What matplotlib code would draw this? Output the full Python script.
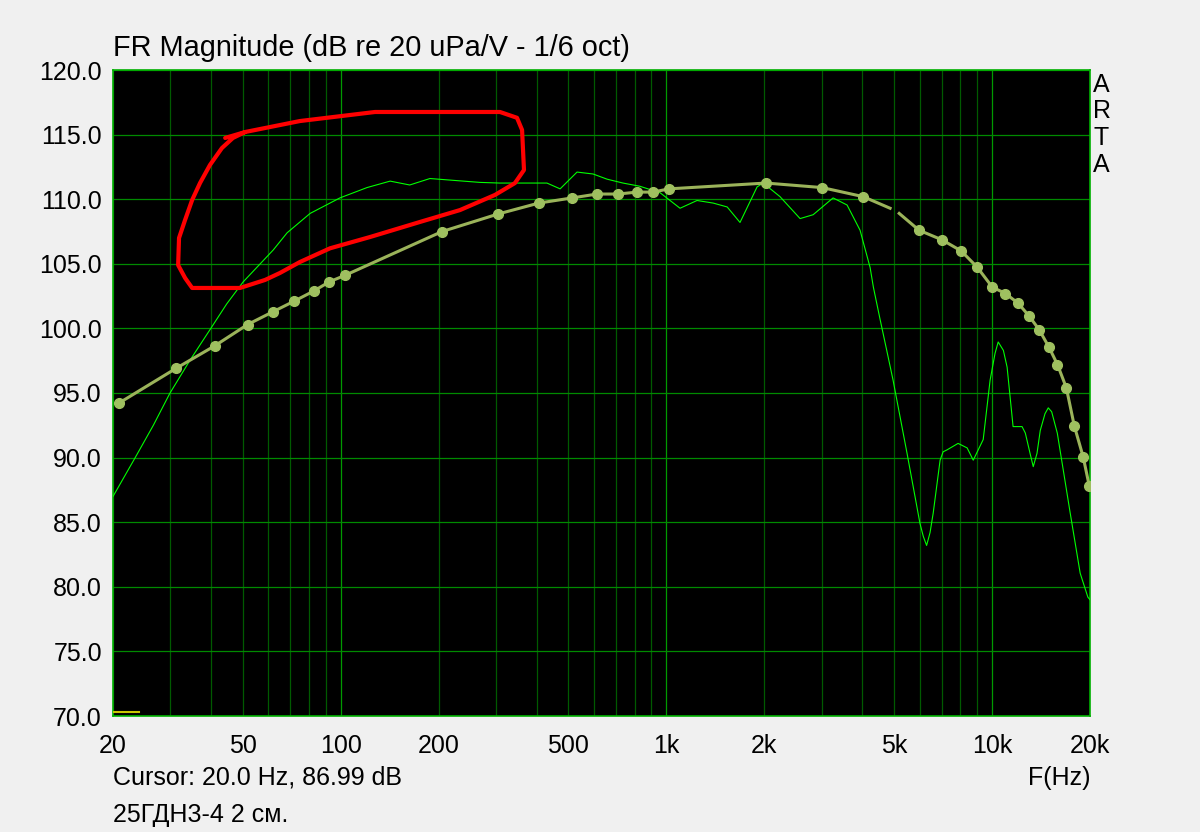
import matplotlib
matplotlib.use('Agg')
import matplotlib.pyplot as plt
from matplotlib.ticker import FixedLocator, NullFormatter

plt.rcParams['font.family'] = ['Liberation Sans', 'DejaVu Sans']

# measured response, 1/6 oct (bright green)
meas_f = [20, 23.4, 26.6, 29.9, 34.5, 39.7, 44.7, 50.2, 62.1, 68.5, 80.6, 99.5, 120.5, 141.9,
          163, 188, 268, 308, 430, 472, 532, 596, 658, 736, 830, 957, 1102, 1243, 1393, 1538,
          1684, 1900, 1984, 2234, 2575, 2825, 3252, 3590, 3935, 4226, 4323, 4538, 4752, 4969,
          5484, 6011, 6154, 6300, 6455, 6600, 6930, 7080, 7280, 7870, 8390, 8760, 9400, 9870,
          10220, 10450, 10840, 11130, 11610, 12370, 12660, 13090, 13390, 13750, 14070, 14550,
          14890, 15250, 15870, 17390, 18660, 19700, 20000]
meas_db = [86.99, 90.0, 92.5, 94.98, 97.55, 99.9, 101.9, 103.6, 106.07, 107.4, 108.9, 110.1,
           110.9, 111.4, 111.1, 111.6, 111.3, 111.25, 111.25, 110.8, 112.1, 111.95, 111.55,
           111.25, 111.0, 110.5, 109.3, 109.9, 109.7, 109.4, 108.2, 110.95, 111.25, 110.2,
           108.5, 108.8, 110.1, 109.55, 107.6, 104.7, 103.2, 100.65, 98.3, 96.0, 90.35, 84.9,
           83.9, 83.2, 84.2, 85.7, 89.8, 90.45, 90.6, 91.1, 90.75, 89.8, 91.4, 96.0, 98.07,
           98.95, 98.3, 97.0, 92.4, 92.4, 91.9, 90.33, 89.3, 90.33, 92.1, 93.4, 93.85, 93.55,
           91.9, 85.7, 81.05, 79.2, 79.0]

# reference curve with markers (olive), two segments
ref1_f = [20.8, 31.2, 41.0, 51.8, 62.1, 71.9, 82.8, 92.2, 103, 205, 304, 406, 514, 613, 711,
          813, 910, 1019, 2024, 3008, 4021, 4866]
ref1_db = [94.2, 96.9, 98.64, 100.3, 101.3, 102.1, 102.9, 103.6, 104.1, 107.5, 108.85, 109.7,
           110.1, 110.4, 110.4, 110.55, 110.55, 110.8, 111.25, 110.9, 110.2, 109.3]
ref2_f = [5190, 5970, 7030, 8040, 9000, 10020, 11000, 12030, 13010, 13960, 14960, 15890,
          16920, 17900, 19060, 19900]
ref2_db = [108.9, 107.6, 106.85, 106.0, 104.75, 103.2, 102.7, 101.95, 100.95, 99.9, 98.55,
           97.2, 95.4, 92.45, 90.05, 87.8]

# hand-drawn red loop
red_f = [44.2, 50.9, 75.0, 127.5, 308.6, 348, 360.7, 365.6, 343, 297.8, 232.6, 175.3, 123,
         92.8, 75.0, 65.1, 58.6, 49.1, 35.0, 33.3, 31.7, 31.9, 33.3, 35.0, 37.0, 39.7, 43.2,
         46.7, 50.9]
red_db = [114.74, 115.2, 116.05, 116.75, 116.75, 116.3, 115.36, 112.26, 111.25, 110.33, 109.16,
          108.24, 107.07, 106.2, 105.14, 104.29, 103.75, 103.13, 103.13, 103.9, 104.9, 107.0,
          108.4, 109.94, 111.25, 112.65, 113.96, 114.74, 115.2]

x_ticks = [20, 50, 100, 200, 500, 1000, 2000, 5000, 10000, 20000]
x_labels = ['20', '50', '100', '200', '500', '1k', '2k', '5k', '10k', '20k']
y_ticks = [70, 75, 80, 85, 90, 95, 100, 105, 110, 115, 120]

fig = plt.figure(figsize=(12, 8.32), dpi=100, facecolor='#f0f0f0')
ax = fig.add_axes([113 / 1200, 116 / 832, 977 / 1200, 646 / 832])
ax.set_facecolor('black')
ax.set_xscale('log')
ax.set_xlim(20, 20000)
ax.set_ylim(70, 120)

# grid
minor = [f * d for d in (10, 100, 1000) for f in range(2, 10)]
for f in minor:
    ax.axvline(f, color='#005a00', lw=0.9, zorder=1)
for f in (100, 1000, 10000):
    ax.axvline(f, color='#009a00', lw=0.9, zorder=1)
for y in y_ticks:
    ax.axhline(y, color='#008a00', lw=0.9, zorder=1)

ax.plot(meas_f, meas_db, color='#00ff00', lw=0.8, zorder=3)
ax.plot(ref1_f, ref1_db, color='#9bb35a', lw=2.2, marker='o', ms=7, mfc='#9fc060',
        mec='#9fc060', markevery=list(range(len(ref1_f) - 1)), zorder=4)
ax.plot(ref2_f, ref2_db, color='#9bb35a', lw=2.2, marker='o', ms=7, mfc='#9fc060',
        mec='#9fc060', markevery=list(range(1, len(ref2_f))), zorder=4)
ax.plot(red_f, red_db, color='#ff0000', lw=3, solid_capstyle='round',
        solid_joinstyle='round', zorder=5)
ax.plot([20, 24], [70.3, 70.3], color='#c8c800', lw=1.5, zorder=5)

for s in ax.spines.values():
    s.set_color('#00b000')
    s.set_linewidth(1.2)

ax.xaxis.set_major_locator(FixedLocator(x_ticks))
ax.set_xticklabels(x_labels)
ax.xaxis.set_minor_locator(FixedLocator([]))
ax.xaxis.set_minor_formatter(NullFormatter())
ax.set_yticks(y_ticks)
ax.set_yticklabels(['%.1f' % y for y in y_ticks])
ax.tick_params(axis='both', which='both', length=0, labelsize=18, colors='black')
ax.tick_params(axis='x', pad=13)
ax.tick_params(axis='y', pad=8)

fig.text(113 / 1200, 1 - 48 / 832, 'FR Magnitude (dB re 20 uPa/V - 1/6 oct)', fontsize=20.8,
         va='center', ha='left')
for i, ch in enumerate('ARTA'):
    fig.text(1093 / 1200, 1 - (85 + i * 26.5) / 832, ch, fontsize=18, va='center', ha='left')
fig.text(113 / 1200, 1 - 778 / 832, 'Cursor: 20.0 Hz, 86.99 dB', fontsize=18, va='center')
fig.text(1090 / 1200, 1 - 778 / 832, 'F(Hz)', fontsize=18, va='center', ha='right')
fig.text(113 / 1200, 1 - 815 / 832, '25ГДН3-4 2 см.', fontsize=18, va='center')

fig.savefig('out.png', dpi=100, facecolor=fig.get_facecolor())
